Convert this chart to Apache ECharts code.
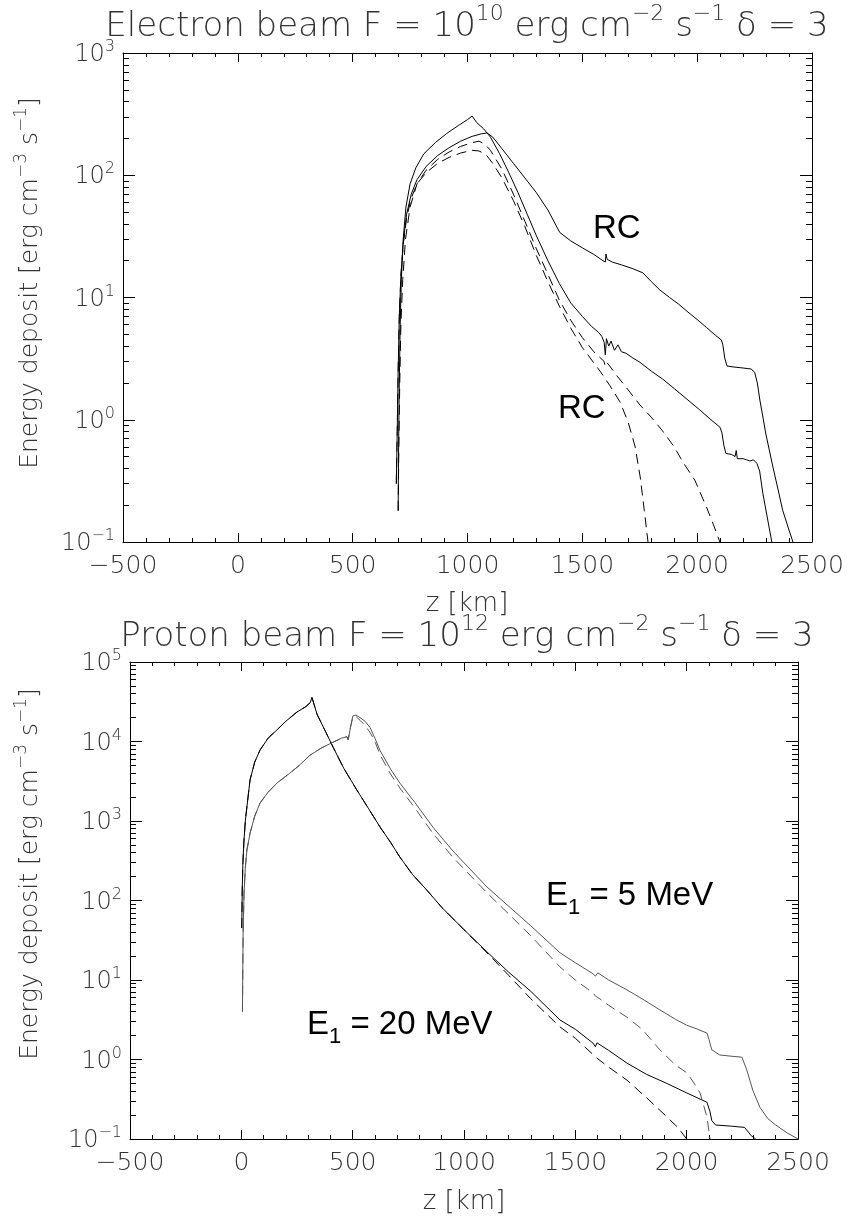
<!DOCTYPE html>
<html><head><meta charset="utf-8">
<script src="https://cdn.jsdelivr.net/npm/echarts@6/dist/echarts.min.js"></script>
<style>html,body{margin:0;padding:0;background:#fff}#c{width:847px;height:1219px}</style>
</head><body><div id="c"></div><script>
// ---------- DATA: electron beam (top panel) ----------
const eRcSolidZ = [690,694,698,703,710,720,735,755,780,820,870,920,970,1020,1060,1085,1110,1150,1200,1250,1300,1350,1402,1450,1500,1550,1590,1600,1603,1608,1630,1670,1720,1764,1800,1838,1880,1920,1960,2000,2040,2080,2105,2112,2120,2130,2160,2200,2235,2250,2262,2273,2300,2330,2373,2400,2417];
const eRcSolidV = [0.3,0.8,2.5,7,15,28,48,70,92,118,145,168,190,208,218,222,205,165,125,95,72,52,34,29,25.5,22.5,20,19.5,22.7,20.5,19.5,18.5,17.2,15.9,13.5,11.5,10,8.8,7.6,6.6,5.7,4.9,4.5,4.1,3.2,2.75,2.7,2.65,2.6,2.45,2.0,1.45,0.75,0.41,0.18,0.125,0.1];
const eSolidZ = [698,700,703,707,712,720,732,750,775,810,860,910,960,1000,1020,1040,1070,1100,1140,1180,1220,1260,1300,1350,1400,1450,1500,1540,1570,1585,1595,1600,1605,1615,1625,1640,1655,1670,1690,1720,1751,1800,1850,1900,1960,2012,2060,2099,2108,2116,2125,2150,2165,2170,2175,2200,2215,2230,2245,2260,2272,2286,2305,2325];
const eSolidV = [0.18,0.6,2,6,14,30,55,85,115,150,185,220,255,285,305,270,240,205,150,105,72,48,32,20,13,9,7,5.8,5.2,4.8,4.3,3.4,4.6,4.0,4.4,3.7,4.1,3.6,3.5,3.2,2.95,2.5,2.15,1.8,1.45,1.2,1.0,0.87,0.78,0.62,0.53,0.52,0.5,0.56,0.48,0.48,0.47,0.46,0.47,0.44,0.38,0.25,0.16,0.1];
const eDashBZ = [698,701,705,710,718,730,750,780,820,870,920,970,1020,1050,1075,1100,1150,1200,1250,1300,1350,1400,1450,1500,1550,1595,1600,1610,1650,1700,1751,1800,1847,1900,1938,1990,2042,2070,2099];
const eDashBV = [0.18,0.6,2,6,14,30,55,85,110,135,155,172,185,190,180,160,112,70,42,25,15.5,9.5,6.5,4.7,3.6,3.0,2.7,2.9,2.3,1.75,1.32,1.05,0.82,0.6,0.45,0.32,0.19,0.14,0.1];
const eDashAZ = [690,694,698,703,710,720,735,755,780,820,870,920,970,1020,1050,1080,1110,1150,1200,1250,1300,1350,1400,1450,1500,1577,1620,1664,1700,1730,1752,1770,1786];
const eDashAV = [0.3,0.8,2.5,7,15,27,45,65,85,105,125,140,152,160,158,148,125,95,62,38,22,13.5,8.5,5.6,3.9,2.5,1.9,1.4,0.95,0.6,0.34,0.18,0.1];

// ---------- DATA: proton beam (bottom panel) ----------
const p20SolidZ = [2,4,7,12,18,25,39,60,84,120,160,200,250,290,310,317,340,380,412,460,519,570,623,670,712,770,833,900,1000,1100,1200,1300,1431,1500,1579,1590,1597,1650,1732,1820,1911,2000,2091,2105,2113,2130,2200,2260,2290,2310];
const p20SolidV = [45,135,300,575,1000,1500,3280,5500,7800,11000,14000,18000,23500,27500,31000,36000,22000,13000,8500,4600,2450,1450,840,540,352,210,135,82,43,23,12.6,7.2,3.14,2.4,1.61,1.45,1.62,1.3,0.9,0.65,0.5,0.38,0.29,0.22,0.17,0.15,0.145,0.14,0.11,0.1];
const p20DashZ = [2,4,7,12,18,25,39,60,84,120,160,200,250,290,310,317,340,380,412,460,519,570,623,670,712,770,833,900,1000,1100,1200,1300,1431,1500,1597,1605,1650,1732,1820,1911,1960,2000];
const p20DashV = [45,135,300,575,1000,1500,3280,5500,7800,11000,14000,18000,23500,27500,31000,36000,22000,13000,8500,4600,2450,1450,840,540,352,210,135,82,43,22.5,11.5,5.8,2.57,1.85,1.04,1.0,0.8,0.55,0.33,0.19,0.14,0.1];
const p5SolidZ = [5,8,12,18,25,39,60,84,120,160,218,260,308,360,412,450,474,480,490,501,515,533,555,578,600,623,670,712,780,860,950,1103,1200,1300,1431,1500,1579,1590,1601,1650,1732,1800,1880,1950,2000,2050,2091,2100,2113,2149,2200,2248,2270,2297,2329,2365,2400,2450,2500];
const p5SolidV = [4,40,120,260,430,700,1150,1680,2300,3000,4000,5000,6700,8300,9800,11000,11500,10500,15000,21000,21500,20000,18000,15000,11000,7700,4500,3000,1700,840,420,148,85,48,22,16.5,12,11.2,12.3,10,7.5,5.8,4.2,3.2,2.7,2.4,2.15,1.8,1.32,1.14,1.1,1.07,0.74,0.41,0.25,0.18,0.15,0.12,0.1];
const p5DashZ = [5,8,12,18,25,39,60,84,120,160,218,260,308,360,412,450,474,480,490,501,515,533,555,578,600,623,670,712,780,860,950,1103,1200,1300,1431,1500,1579,1590,1610,1650,1732,1800,1880,1950,2001,2030,2060,2091,2105];
const p5DashV = [4,40,120,260,430,700,1150,1680,2300,3000,4000,5000,6700,8300,9800,11000,11500,10500,15000,20500,20500,18500,16000,13000,10000,6800,3900,2600,1450,700,350,125,68,36,14.6,10,6.9,6.3,5.8,4.8,3.4,2.4,1.32,0.85,0.68,0.52,0.38,0.19,0.1];

// ---------- axis settings ----------
const xMin = -500, xMax = 2500, xStep = 500;
const eYMin = 0.1, eYMax = 1000;
const pYMin = 0.1, pYMax = 100000;

// ---------- styling ----------
const F = "'DejaVu Sans'";
const FW = 200;
const TXT = '#333';
const AF = "'Liberation Sans', Arial, sans-serif";

function pairs(z, v) { return z.map((x, i) => [x, v[i]]); }
function expStr(e) { return e < 0 ? '\u2212' + (-e) : String(e); }
function powLabel(v) { const e = Math.round(Math.log10(v)); return '{b|10}{s|' + expStr(e) + '}'; }

const labRich = {
  b: {fontSize: 24, fontFamily: F, fontWeight: FW, color: TXT, lineHeight: 28, verticalAlign: 'bottom'},
  s: {fontSize: 16, fontFamily: F, fontWeight: FW, color: TXT, lineHeight: 18, verticalAlign: 'top'}
};

function xAxes(grid) {
  const base = {
    gridIndex: grid, type: 'value', min: xMin, max: xMax, interval: xStep,
    axisLine: {show: true, onZero: false, lineStyle: {color: '#000', width: 1}},
    axisTick: {show: true, inside: true, length: 9, lineStyle: {color: '#000', width: 1}},
    minorTick: {show: true, splitNumber: 5, length: 4, lineStyle: {color: '#000', width: 1}},
    splitLine: {show: false}, minorSplitLine: {show: false}
  };
  return [
    Object.assign({}, base, {position: 'bottom', axisLabel: {show: true, margin: 12, fontSize: 25, fontFamily: F, fontWeight: FW, color: TXT,
      formatter: v => v < 0 ? '\u2212' + (-v) : String(v)}}),
    Object.assign({}, base, {position: 'top', axisLabel: {show: false}})
  ];
}

function yAxes(grid, min, max) {
  const e0 = Math.round(Math.log10(min)), e1 = Math.round(Math.log10(max));
  const majors = [], minors = [];
  for (let e = e0; e <= e1; e++) {
    majors.push(Math.pow(10, e));
    if (e < e1) for (let k = 2; k <= 9; k++) minors.push(k * Math.pow(10, e));
  }
  const base = {gridIndex: grid, type: 'log', logBase: 10, min: min, max: max,
    splitLine: {show: false}, minorTick: {show: false}, minorSplitLine: {show: false}};
  const out = [];
  ['left', 'right'].forEach(pos => {
    out.push(Object.assign({}, base, {position: pos,
      axisLine: {show: true, onZero: false, lineStyle: {color: '#000', width: 1}},
      axisTick: {show: true, inside: true, length: 12, customValues: majors, lineStyle: {color: '#000', width: 1}},
      axisLabel: pos === 'left' ? {show: true, margin: 8, customValues: majors, formatter: powLabel, rich: labRich} : {show: false}
    }));
    out.push(Object.assign({}, base, {position: pos,
      axisLine: {show: false, onZero: false},
      axisTick: {show: true, inside: true, length: 6, customValues: minors, lineStyle: {color: '#000', width: 1}},
      axisLabel: {show: false}
    }));
  });
  return out;
}

function line(z, v, xi, yi, color, dashed) {
  return {type: 'line', xAxisIndex: xi, yAxisIndex: yi, data: pairs(z, v), showSymbol: false, symbol: 'none',
    silent: true, animation: false,
    lineStyle: {color: color, width: 1, type: dashed ? [10, 6] : 'solid'}};
}

const supRich = (size) => ({
  n: {fontSize: size, fontFamily: F, fontWeight: FW, fill: TXT, lineHeight: Math.round(size * 1.2), verticalAlign: 'bottom'},
  s: {fontSize: Math.round(size * 0.66), fontFamily: F, fontWeight: FW, fill: TXT, lineHeight: Math.round(size * 0.7), verticalAlign: 'top'}
});

function gtext(x, y, text, rich, rot) {
  return {type: 'text', x: x, y: y, rotation: rot || 0, silent: true,
    style: {text: text, rich: rich, align: 'center', verticalAlign: 'middle'}};
}

const annRich = {
  m: {fontSize: 33, fontFamily: AF, fill: '#000', lineHeight: 40, verticalAlign: 'top'},
  sub: {fontSize: 22, fontFamily: AF, fill: '#000', lineHeight: 30, verticalAlign: 'bottom'}
};
function ann(x, y, text) {
  return {type: 'text', x: x, y: y, silent: true, style: {text: text, rich: annRich, align: 'left', verticalAlign: 'middle'}};
}

const option = {
  animation: false,
  backgroundColor: '#fff',
  grid: [
    {left: 123, top: 53, width: 689, height: 489, containLabel: false},
    {left: 130, top: 662, width: 668, height: 477, containLabel: false}
  ],
  xAxis: xAxes(0).concat(xAxes(1)),
  yAxis: yAxes(0, eYMin, eYMax).concat(yAxes(1, pYMin, pYMax)),
  series: [
    line(eRcSolidZ, eRcSolidV, 0, 0, '#000', false),
    line(eSolidZ, eSolidV, 0, 0, '#000', false),
    line(eDashBZ, eDashBV, 0, 0, '#000', true),
    line(eDashAZ, eDashAV, 0, 0, '#000', true),
    line(p20SolidZ, p20SolidV, 2, 4, '#000', false),
    line(p20DashZ, p20DashV, 2, 4, '#000', true),
    line(p5SolidZ, p5SolidV, 2, 4, '#555', false),
    line(p5DashZ, p5DashV, 2, 4, '#555', true)
  ],
  graphic: [
    gtext(467, 24, '{n|Electron beam F = 10}{s|10}{n| erg cm}{s|\u22122}{n| s}{s|\u22121}{n| \u03b4 = 3}', supRich(34)),
    gtext(467, 634, '{n|Proton beam F = 10}{s|12}{n| erg cm}{s|\u22122}{n| s}{s|\u22121}{n| \u03b4 = 3}', supRich(34)),
    gtext(467, 602, '{n|z [km]}', supRich(26)),
    gtext(464, 1200, '{n|z [km]}', supRich(26)),
    gtext(28, 283, '{n|Energy deposit [erg cm}{s|\u22123}{n| s}{s|\u22121}{n|]}', supRich(25), Math.PI / 2),
    gtext(28, 874, '{n|Energy deposit [erg cm}{s|\u22123}{n| s}{s|\u22121}{n|]}', supRich(25), Math.PI / 2),
    ann(593, 232, '{m|RC}'),
    ann(558, 412, '{m|RC}'),
    ann(546, 899, '{m|E}{sub|1}{m| = 5 MeV}'),
    ann(307, 1028, '{m|E}{sub|1}{m| = 20 MeV}')
  ]
};

echarts.init(document.getElementById('c'), null, {renderer: 'canvas'}).setOption(option);
</script></body></html>
